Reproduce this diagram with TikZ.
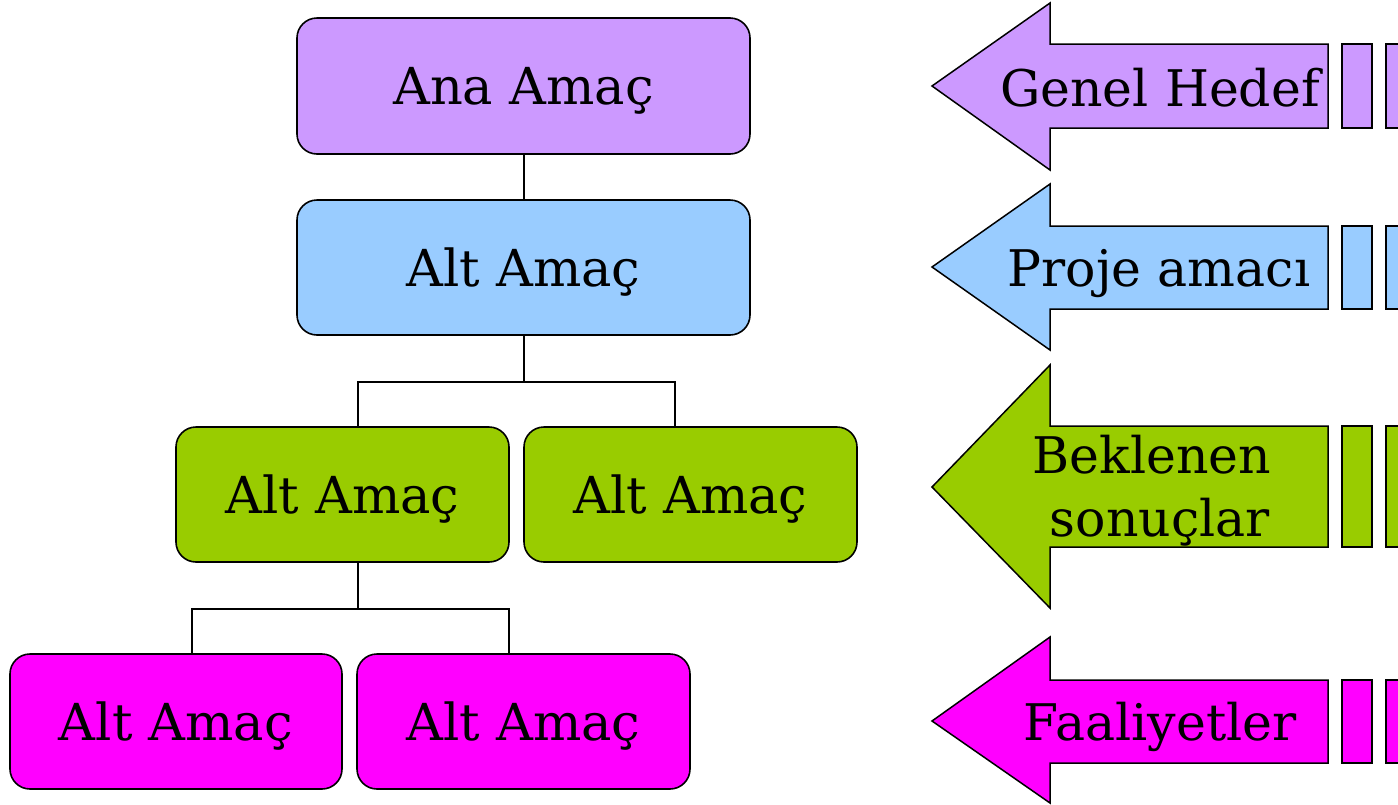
\documentclass[tikz,border=0pt]{standalone}
\usepackage{fontspec}
\setmainfont{DejaVu Serif}
\definecolor{cPurple}{HTML}{CC99FF}
\definecolor{cBlue}{HTML}{99CCFF}
\definecolor{cGreen}{HTML}{99CC00}
\definecolor{cMag}{HTML}{FF00FF}
\tikzset{
  goalbox/.style={draw=black, line width=1.6pt, rounded corners=20pt, inner sep=0pt,
    minimum height=135pt, text height=37pt, text depth=0pt,
    font=\fontsize{51}{61}\selectfont},
  wide/.style={minimum width=453pt},
  narrow/.style={minimum width=333pt},
  conn/.style={draw=black, line width=1.6pt},
  bigarrow/.style={draw=black, line width=1.5pt},
  arrowtext/.style={anchor=base, inner sep=0pt, font=\fontsize{50.5}{61}\selectfont}
}
\begin{document}
\begin{tikzpicture}[x=1pt, y=-1pt]
\useasboundingbox (0,0) rectangle (1398,804);
\clip (0,0) rectangle (1398,804);
\fill[white] (0,0) rectangle (1398,804);

% tree boxes
\node[goalbox, wide, fill=cPurple, minimum height=136pt] (ana) at (523.5,86) {Ana Amaç};
\node[goalbox, wide, fill=cBlue] (alt) at (523.5,267.5) {Alt Amaç};
\node[goalbox, narrow, fill=cGreen] (g1) at (342.5,494.5) {Alt Amaç};
\node[goalbox, narrow, fill=cGreen] (g2) at (690.5,494.5) {Alt Amaç};
\node[goalbox, narrow, fill=cMag, minimum width=332pt] (m1) at (176,721.5) {Alt Amaç};
\node[goalbox, narrow, fill=cMag] (m2) at (523.5,721.5) {Alt Amaç};

% connectors
\draw[conn] ([xshift=0.5pt]ana.south) -- ([xshift=0.5pt]alt.north);
\draw[conn] ([xshift=0.5pt]alt.south) -- ++(0,46) coordinate (j1) -| ([xshift=15.5pt]g1.north);
\draw[conn] (j1) -| ([xshift=-15.5pt]g2.north);
\draw[conn] ([xshift=15.5pt]g1.south) -- ++(0,46) coordinate (j2) -| ([xshift=16pt]m1.north);
\draw[conn] (j2) -| ([xshift=-14.5pt]m2.north);

% arrows: tip y, head top, head bottom, shaft top, shaft bottom, colour
\foreach \cy/\ht/\hb/\st/\sb/\col in {86/3/170/44/128/cPurple, 267/184/350/226/309/cBlue, 487/365/608/426/547/cGreen, 721/637/803/680/763/cMag}{
  \draw[bigarrow, fill=\col] (932,\cy) -- (1050,\ht) -- (1050,\st) -- (1328,\st) -- (1328,\sb) -- (1050,\sb) -- (1050,\hb) -- cycle;
  \draw[bigarrow, fill=\col] (1342,\st) rectangle (1372,\sb);
  \draw[bigarrow, fill=\col] (1386,\st) rectangle (1420,\sb);
}

\node[arrowtext] (t1) at (1160,106) {Genel Hedef};
\node[arrowtext] (t2) at (1159,286) {Proje amacı};
\node[arrowtext] (t3a) at (1152,473) {Beklenen};
\node[arrowtext] (t3b) at (1160,536) {sonuçlar};
\node[arrowtext] (t4) at (1160,740) {Faaliyetler};
\end{tikzpicture}
\end{document}
